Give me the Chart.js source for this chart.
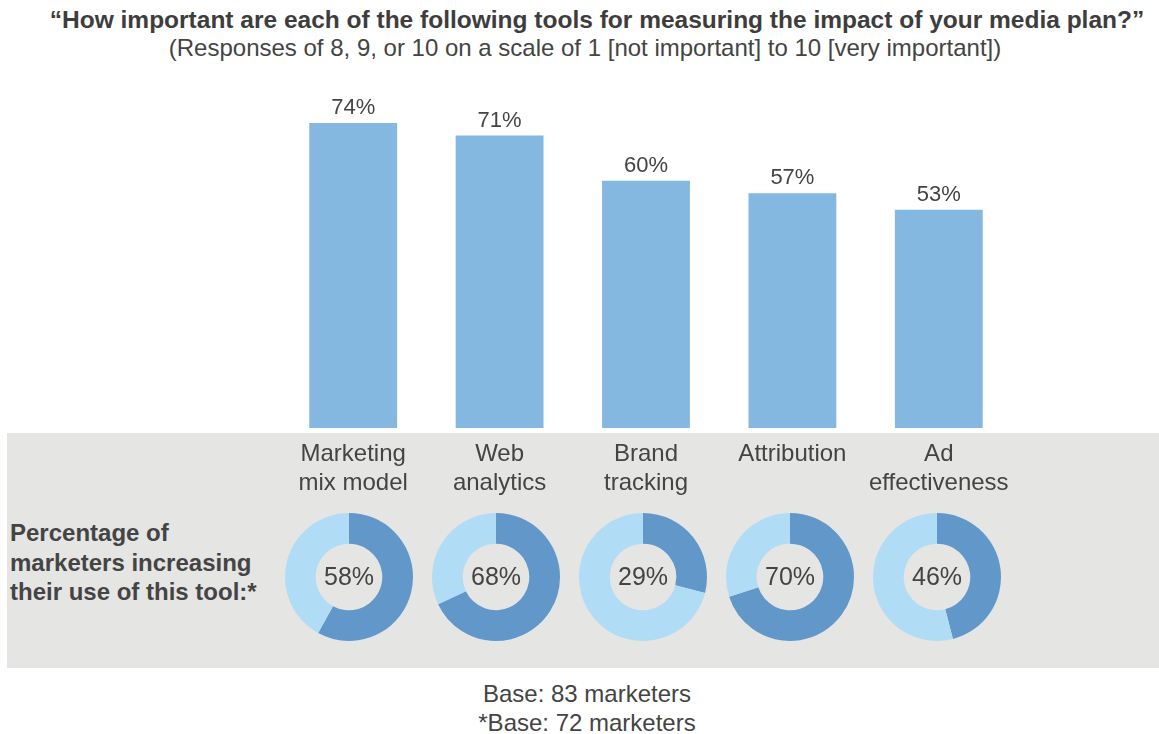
<!DOCTYPE html>
<html>
<head>
<meta charset="utf-8">
<script src="https://cdn.jsdelivr.net/npm/chart.js@4/dist/chart.umd.min.js"></script>
<style>
  body { margin: 0; width: 1159px; height: 734px; background: #fff; position: relative; overflow: hidden;
         font-family: "Liberation Sans", Arial, sans-serif; color: #444; }
  .abs { position: absolute; }
  #title { top: 6px; left: 0; width: 1194px; text-align: center; font-weight: bold; font-size: 24.5px; line-height: 28px; color: #3d3d3d; white-space: nowrap; }
  #subtitle { top: 34px; left: 0; width: 1170px; text-align: center; font-size: 24px; line-height: 28px; white-space: nowrap; }
  #band { top: 433px; left: 7px; width: 1152px; height: 235px; background: #e5e5e4; }
  #side { top: 518px; left: 10px; font-weight: bold; font-size: 24px; line-height: 29.5px; white-space: nowrap; }
  #foot { top: 679px; left: 387px; width: 400px; text-align: center; font-size: 24px; line-height: 29px; }
  .donut { width: 140px; height: 140px; top: 507px; }
</style>
</head>
<body>
<div id="band" class="abs"></div>
<div id="title" class="abs">“How important are each of the following tools for measuring the impact of your media plan?”</div>
<div id="subtitle" class="abs">(Responses of 8, 9, or 10 on a scale of 1 [not important] to 10 [very important])</div>
<canvas id="bars" class="abs" style="left:0;top:0;width:1159px;height:500px"></canvas>
<div id="side" class="abs">Percentage of<br>marketers increasing<br>their use of this tool:*</div>
<div id="foot" class="abs">Base: 83 marketers<br>*Base: 72 marketers</div>
<script>
// chart data
var categories = [['Marketing', 'mix model'], ['Web', 'analytics'], ['Brand', 'tracking'], ['Attribution'], ['Ad', 'effectiveness']];
var importance = [74, 71, 60, 57, 53];
var increasing = [58, 68, 29, 70, 46];

var textColor = '#444';
var barColor = '#84b8e0';
var darkBlue = '#6198c9';
var lightBlue = '#b1dcf6';
var fontFamily = '"Liberation Sans", Arial, sans-serif';

var barLabels = {
  id: 'barLabels',
  afterDatasetsDraw: function(chart) {
    var ctx = chart.ctx;
    var meta = chart.getDatasetMeta(0);
    ctx.save();
    ctx.font = '22px ' + fontFamily;
    ctx.fillStyle = textColor;
    ctx.textAlign = 'center';
    ctx.textBaseline = 'middle';
    meta.data.forEach(function(bar, i) {
      ctx.fillText(importance[i] + '%', bar.x, bar.y - 15);
    });
    ctx.restore();
  }
};

new Chart(document.getElementById('bars'), {
  type: 'bar',
  data: {
    labels: categories,
    datasets: [{ data: importance, backgroundColor: barColor, borderWidth: 0 }]
  },
  options: {
    responsive: false,
    animation: false,
    layout: { padding: { left: 280, right: 147, top: 16, bottom: 0 } },
    plugins: { legend: { display: false }, tooltip: { enabled: false } },
    datasets: { bar: { barPercentage: 0.6, categoryPercentage: 1 } },
    scales: {
      y: { display: false, min: 0, max: 100 },
      x: {
        grid: { display: false, drawTicks: false },
        border: { display: false },
        ticks: { color: textColor, padding: 12, font: { size: 24, family: fontFamily, lineHeight: '29px' } },
        afterFit: function(scale) { scale.height = 72; }
      }
    }
  },
  plugins: [barLabels]
});

var centerText = {
  id: 'centerText',
  afterDraw: function(chart) {
    var ctx = chart.ctx;
    var arc = chart.getDatasetMeta(0).data[0];
    ctx.save();
    ctx.font = '25px ' + fontFamily;
    ctx.fillStyle = textColor;
    ctx.textAlign = 'center';
    ctx.textBaseline = 'middle';
    ctx.fillText(chart.data.datasets[0].data[0] + '%', arc.x, arc.y + 1);
    ctx.restore();
  }
};

increasing.forEach(function(v, i) {
  var c = document.createElement('canvas');
  c.className = 'abs donut';
  c.style.left = (349 + 147 * i - 70) + 'px';
  document.body.appendChild(c);
  new Chart(c, {
    type: 'doughnut',
    data: { datasets: [{ data: [v, 100 - v], backgroundColor: [darkBlue, lightBlue], borderWidth: 0 }] },
    options: {
      responsive: false,
      animation: false,
      cutout: '52%',
      layout: { padding: 6 },
      plugins: { legend: { display: false }, tooltip: { enabled: false } }
    },
    plugins: [centerText]
  });
});
</script>
</body>
</html>
